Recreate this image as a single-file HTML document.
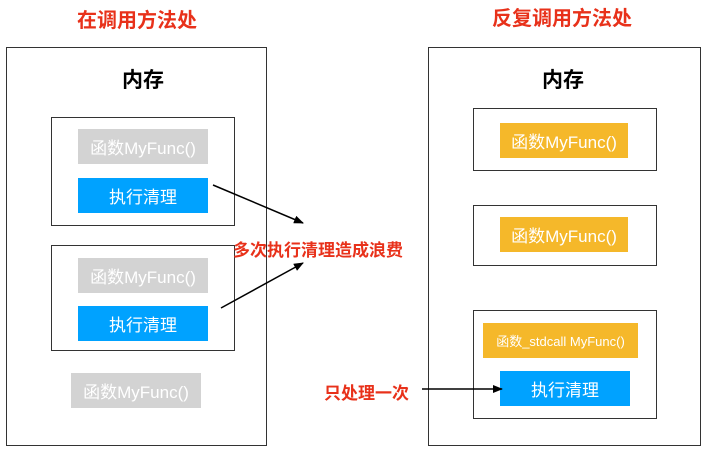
<!DOCTYPE html>
<html><head><meta charset="utf-8"><style>
body{margin:0;width:712px;height:457px;background:#fff;position:relative;overflow:hidden;font-family:"Liberation Sans","Noto Sans CJK SC",sans-serif}
.a{position:absolute;box-sizing:border-box}
.box{border:1.5px solid #333}
.t{display:flex;align-items:center;justify-content:center;white-space:nowrap;color:#fff}
.g{background:#d3d3d3;font-size:17px}
.b{background:#00a2ff;font-size:17px}
.o{background:#f5b82a;font-size:17px}
.red{color:#e8311a;font-weight:bold}
</style></head><body>
<div class="a red" style="left:67px;top:4px;width:140px;text-align:center;font-size:20px">在调用方法处</div>
<div class="a red" style="left:482px;top:2px;width:160px;text-align:center;font-size:20px">反复调用方法处</div>

<div class="a box" style="left:6px;top:47px;width:261px;height:399px"></div>
<div class="a" style="left:103px;top:64px;width:80px;text-align:center;font-size:21px;font-weight:bold">内存</div>
<div class="a box" style="left:51px;top:117px;width:184px;height:109px"></div>
<div class="a t g" style="left:78px;top:129px;width:130px;height:35px">函数MyFunc()</div>
<div class="a t b" style="left:78px;top:178px;width:130px;height:35px">执行清理</div>
<div class="a box" style="left:51px;top:245px;width:184px;height:106px"></div>
<div class="a t g" style="left:78px;top:258px;width:130px;height:35px">函数MyFunc()</div>
<div class="a t b" style="left:78px;top:306px;width:130px;height:35px">执行清理</div>
<div class="a t g" style="left:71px;top:373px;width:130px;height:35px">函数MyFunc()</div>

<div class="a red" style="left:222px;top:236px;width:192px;text-align:center;font-size:17px">多次执行清理造成浪费</div>

<div class="a box" style="left:428px;top:47px;width:273px;height:399px"></div>
<div class="a" style="left:523px;top:64px;width:80px;text-align:center;font-size:21px;font-weight:bold">内存</div>
<div class="a box" style="left:473px;top:108px;width:184px;height:63px"></div>
<div class="a t o" style="left:500px;top:123px;width:128px;height:35px">函数MyFunc()</div>
<div class="a box" style="left:473px;top:205px;width:184px;height:61px"></div>
<div class="a t o" style="left:500px;top:217px;width:128px;height:35px">函数MyFunc()</div>
<div class="a box" style="left:473px;top:310px;width:184px;height:109px"></div>
<div class="a t o" style="left:483px;top:323px;width:155px;height:35px;font-size:13px">函数_stdcall MyFunc()</div>
<div class="a t b" style="left:500px;top:371px;width:130px;height:35px">执行清理</div>

<div class="a red" style="left:324px;top:379px;width:95px;font-size:17px">只处理一次</div>

<svg class="a" style="left:0;top:0" width="712" height="457">
<defs><marker id="m" markerWidth="10" markerHeight="8" refX="9" refY="4" orient="auto" markerUnits="userSpaceOnUse"><path d="M0,0 L10,4 L0,8 z" fill="#000"/></marker></defs>
<line x1="213" y1="185" x2="303" y2="223" stroke="#000" stroke-width="1.5" marker-end="url(#m)"/>
<line x1="221" y1="308" x2="303" y2="263" stroke="#000" stroke-width="1.5" marker-end="url(#m)"/>
<line x1="422" y1="389" x2="502" y2="389" stroke="#000" stroke-width="1.5" marker-end="url(#m)"/>
</svg>
</body></html>
